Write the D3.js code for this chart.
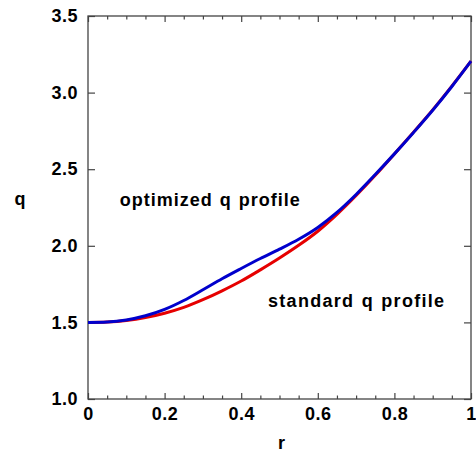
<!DOCTYPE html>
<html>
<head>
<meta charset="utf-8">
<script src="https://cdn.jsdelivr.net/npm/d3@7"></script>
<style>
  body { margin: 0; background: #fff; }
  text { font-family: "Liberation Sans", Arial, Helvetica, sans-serif; font-weight: bold; fill: #000; }
</style>
</head>
<body>
<svg id="chart" width="476" height="453"></svg>
<script>
// r grid and the two q profiles
const rValues = [0, 0.05, 0.1, 0.15, 0.2, 0.25, 0.3, 0.35, 0.4, 0.45, 0.5,
                 0.55, 0.6, 0.65, 0.7, 0.75, 0.8, 0.85, 0.9, 0.95, 1.0]
const standardQ = [1.5, 1.503, 1.513, 1.532, 1.56, 1.598, 1.648, 1.706, 1.77, 1.843, 1.92,
                   2.003, 2.095, 2.205, 2.328, 2.46, 2.6, 2.742, 2.887, 3.042, 3.205]
const optimizedQ = [1.5, 1.503, 1.516, 1.543, 1.585, 1.643, 1.713, 1.785, 1.852, 1.917, 1.978,
                    2.043, 2.12, 2.218, 2.335, 2.465, 2.6, 2.74, 2.885, 3.04, 3.205]
const xTicks = [0, 0.2, 0.4, 0.6, 0.8, 1]
const xTickLabels = ["0", "0.2", "0.4", "0.6", "0.8", "1"]
const yTicks = [1.0, 1.5, 2.0, 2.5, 3.0, 3.5]
const yTickLabels = ["1.0", "1.5", "2.0", "2.5", "3.0", "3.5"]

const margin = {top: 16, right: 5, bottom: 54, left: 88}
const width = 476 - margin.left - margin.right
const height = 453 - margin.top - margin.bottom
const frameColor = "#444"

const svg = d3.select("#chart")
const g = svg.append("g")
  .attr("transform", `translate(${margin.left},${margin.top})`)

const x = d3.scaleLinear().domain([0, 1]).range([0, width])
const y = d3.scaleLinear().domain([1, 3.5]).range([height, 0])

const minorX = d3.range(0, 1.0001, 0.05).filter(v => Math.abs(v * 5 - Math.round(v * 5)) > 1e-6)

const styleAxis = (sel) => {
  sel.select(".domain").remove()
  sel.selectAll("line").attr("stroke", frameColor).attr("stroke-width", 1.2)
  sel.selectAll("text")
    .style("font-size", "18px")
    .style("letter-spacing", "0.5px")
}

// bottom axis with labels
g.append("g")
  .attr("transform", `translate(0,${height})`)
  .call(d3.axisBottom(x).tickValues(xTicks)
    .tickFormat((d, i) => xTickLabels[i]).tickSize(-6).tickPadding(8))
  .call(styleAxis)
g.append("g")
  .attr("transform", `translate(0,${height})`)
  .call(d3.axisBottom(x).tickValues(minorX).tickFormat("").tickSize(-3.5))
  .call(styleAxis)

// top mirrored ticks
g.append("g")
  .call(d3.axisTop(x).tickValues(xTicks).tickFormat("").tickSize(-6))
  .call(styleAxis)
g.append("g")
  .call(d3.axisTop(x).tickValues(minorX).tickFormat("").tickSize(-3.5))
  .call(styleAxis)

// left axis with labels
g.append("g")
  .call(d3.axisLeft(y).tickValues(yTicks)
    .tickFormat((d, i) => yTickLabels[i]).tickSize(-7).tickPadding(10))
  .call(styleAxis)

// right mirrored ticks
g.append("g")
  .attr("transform", `translate(${width},0)`)
  .call(d3.axisRight(y).tickValues(yTicks).tickFormat("").tickSize(-7))
  .call(styleAxis)

// frame
g.append("rect")
  .attr("width", width)
  .attr("height", height)
  .attr("fill", "none")
  .attr("stroke", frameColor)
  .attr("stroke-width", 1.3)

const line = d3.line()
  .x((d, i) => x(rValues[i]))
  .y(d => y(d))
  .curve(d3.curveMonotoneX)

g.append("path")
  .datum(standardQ)
  .attr("fill", "none")
  .attr("stroke", "#e60000")
  .attr("stroke-width", 3)
  .attr("d", line)

g.append("path")
  .datum(optimizedQ)
  .attr("fill", "none")
  .attr("stroke", "#0000cc")
  .attr("stroke-width", 3)
  .attr("d", line)

// annotations
g.append("text")
  .attr("x", x(0.083))
  .attr("y", y(2.26))
  .style("font-size", "18px")
  .style("letter-spacing", "1px")
  .style("word-spacing", "1px")
  .text("optimized q profile")

g.append("text")
  .attr("x", x(0.47))
  .attr("y", y(1.6))
  .style("font-size", "18px")
  .style("letter-spacing", "1.3px")
  .style("word-spacing", "1px")
  .text("standard q profile")

// axis titles
svg.append("text")
  .attr("x", margin.left + x(0.505))
  .attr("y", 449)
  .attr("text-anchor", "middle")
  .style("font-size", "18px")
  .text("r")

svg.append("text")
  .attr("x", 20)
  .attr("y", 205)
  .attr("text-anchor", "middle")
  .style("font-size", "18px")
  .text("q")
</script>
</body>
</html>
